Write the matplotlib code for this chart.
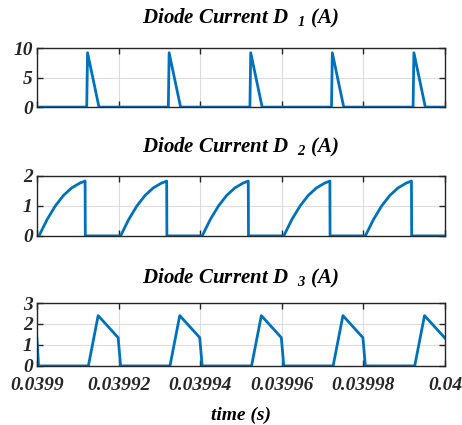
import numpy as np
import matplotlib
matplotlib.use('Agg')
import matplotlib.pyplot as plt

plt.rcParams['font.family'] = 'Liberation Serif'
plt.rcParams['font.weight'] = 'bold'
plt.rcParams['font.style'] = 'italic'
plt.rcParams['axes.titleweight'] = 'bold'
plt.rcParams['axes.labelweight'] = 'bold'
plt.rcParams['mathtext.fontset'] = 'custom'
plt.rcParams['mathtext.rm'] = 'Liberation Serif:bold:italic'
plt.rcParams['mathtext.it'] = 'Liberation Serif:bold:italic'
plt.rcParams['mathtext.bf'] = 'Liberation Serif:bold:italic'

# --- data (time in microseconds after 0.0399 s) ---
t0 = 0.0399
d1_us = [0, 12.2, 12.4, 15.2, 32.2, 32.4, 35.2, 52.2, 52.4, 55.2,
         72.2, 72.4, 75.2, 92.2, 92.4, 95.2, 100]
d1_amp = [0, 0, 9.2, 0, 0, 9.2, 0, 0, 9.2, 0,
          0, 9.2, 0, 0, 9.2, 0, 0]

d2_us = [0, 0.5, 2.5, 4.5, 6.5, 8.5, 10.5, 11.8, 11.85,
         20.5, 22.5, 24.5, 26.5, 28.5, 30.5, 31.8, 31.85,
         40.5, 42.5, 44.5, 46.5, 48.5, 50.5, 51.8, 51.85,
         60.5, 62.5, 64.5, 66.5, 68.5, 70.5, 71.8, 71.85,
         80.5, 82.5, 84.5, 86.5, 88.5, 90.5, 91.8, 91.85, 100]
d2_amp = [0, 0, 0.55, 1.0, 1.35, 1.6, 1.76, 1.83, 0,
          0, 0.55, 1.0, 1.35, 1.6, 1.76, 1.83, 0,
          0, 0.55, 1.0, 1.35, 1.6, 1.76, 1.83, 0,
          0, 0.55, 1.0, 1.35, 1.6, 1.76, 1.83, 0,
          0, 0.55, 1.0, 1.35, 1.6, 1.76, 1.83, 0, 0]

d3_us = [0, 0.4, 12.6, 15.0, 19.9, 20.5,
         32.6, 35.0, 39.9, 40.5,
         52.6, 55.0, 59.9, 60.5,
         72.6, 75.0, 79.9, 80.5,
         92.6, 95.0, 100]
d3_amp = [1.3, 0, 0, 2.4, 1.35, 0,
          0, 2.4, 1.35, 0,
          0, 2.4, 1.35, 0,
          0, 2.4, 1.35, 0,
          0, 2.4, 1.33]

xticks = [0.0399, 0.03992, 0.03994, 0.03996, 0.03998, 0.04]
xticklabels = ['0.0399', '0.03992', '0.03994', '0.03996', '0.03998', '0.04']

panels = [
    ('Diode Current D  $_{1}$ (A)', d1_us, d1_amp, [0, 5, 10], (0, 10)),
    ('Diode Current D  $_{2}$ (A)', d2_us, d2_amp, [0, 1, 2], (0, 2)),
    ('Diode Current D  $_{3}$ (A)', d3_us, d3_amp, [0, 1, 2, 3], (0, 3)),
]
# axes boxes (left, bottom, width, height) in figure fractions
boxes = [
    (0.080, 0.748, 0.883, 0.139),
    (0.080, 0.445, 0.883, 0.141),
    (0.080, 0.139, 0.883, 0.148),
]
title_pads = [18, 17, 14]

fig = plt.figure(figsize=(4.62, 4.25), dpi=100)
for i, ((title, tus, amp, yt, ylim), box) in enumerate(zip(panels, boxes)):
    ax = fig.add_axes(box)
    t = t0 + np.array(tus) * 1e-6
    ax.plot(t, amp, color='#0072BD', linewidth=2.0)
    ax.set_xlim(0.0399, 0.04)
    ax.set_ylim(*ylim)
    ax.set_xticks(xticks)
    ax.set_yticks(yt)
    ax.set_yticklabels([str(v) for v in yt])
    if i == 2:
        ax.set_xticklabels(xticklabels)
        ax.set_xlabel('time (s)', fontsize=14, labelpad=9)
    else:
        ax.set_xticklabels([])
    ax.grid(True, color='#dcdcdc', linewidth=0.8)
    ax.tick_params(direction='in', top=True, right=True, labelsize=14,
                   length=4, width=1, colors='#262626')
    ax.tick_params(axis='y', pad=3)
    ax.tick_params(axis='x', pad=8)
    for sp in ax.spines.values():
        sp.set_color('#262626')
        sp.set_linewidth(1.0)
    ax.set_title(title, fontsize=15, pad=title_pads[i])

fig.savefig('out.png', dpi=100)
